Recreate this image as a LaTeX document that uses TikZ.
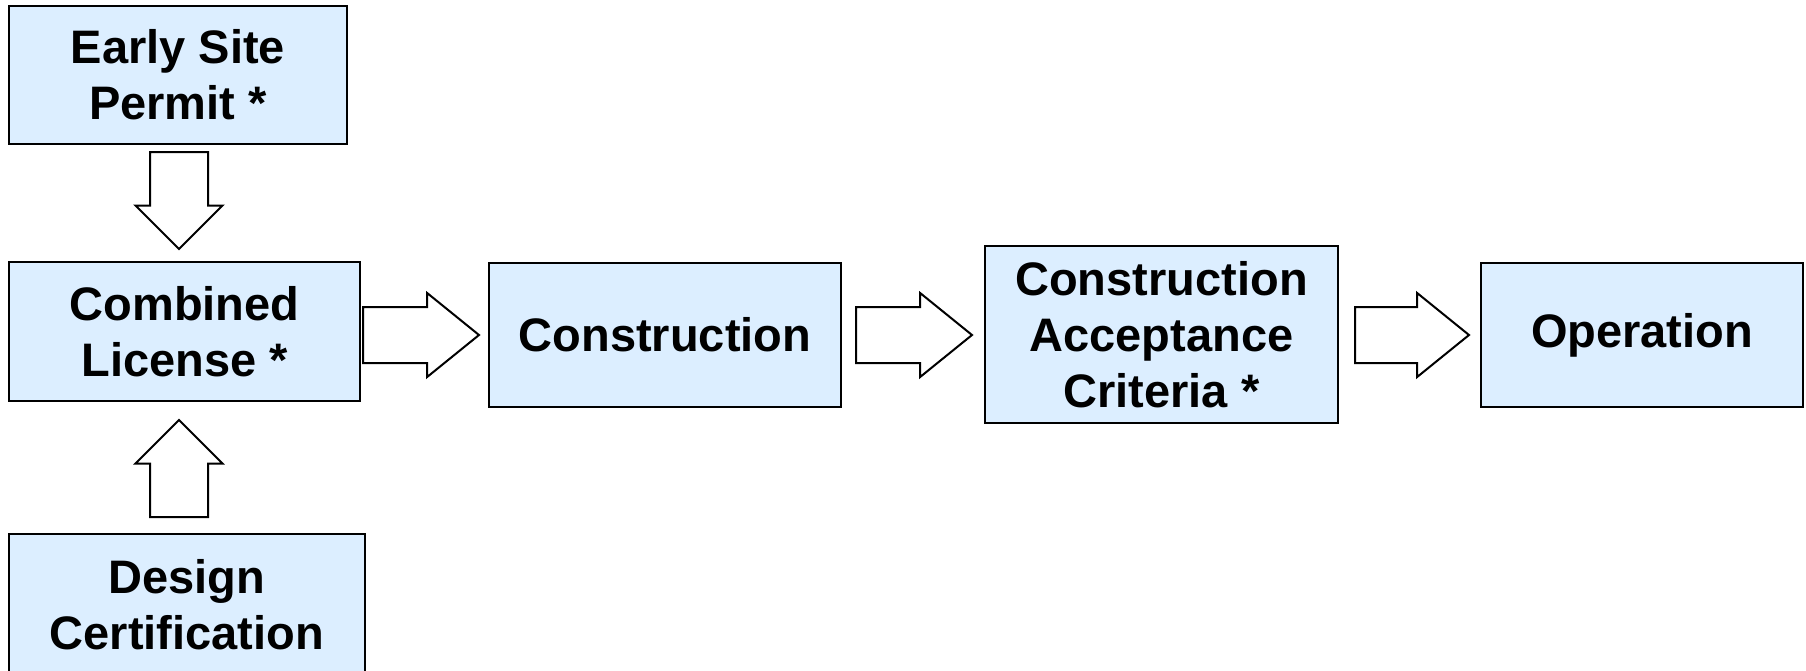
\documentclass[tikz,border=0pt]{standalone}
\usepackage{fontspec}
\setmainfont{Liberation Sans}
\definecolor{boxblue}{RGB}{220, 238, 255}
\usetikzlibrary{positioning,shapes,arrows,calc}

\begin{document}
\begin{tikzpicture}[
    x=0.5pt,y=-0.5pt,
    stagebox/.style={rectangle,draw,line width=1pt,fill=boxblue,align=center,inner sep=2pt,font=\bfseries\fontsize{23.5}{28}\selectfont},
    blockarrow/.style={single arrow,draw,line width=1pt,fill=white,inner xsep=0pt,single arrow head indent=0pt},
    harrow/.style={blockarrow,inner ysep=13.5pt,single arrow head extend=7pt,single arrow tip angle=78,minimum height=58pt},
    varrow/.style={blockarrow,inner ysep=14pt,single arrow head extend=7.25pt,single arrow tip angle=90,minimum height=48.5pt}
]
    \useasboundingbox (0,0) rectangle (1806,670);

    \node[stagebox,minimum width=169pt,minimum height=69pt] (esp) at (178,75) {Early Site\\Permit *};
    \node[stagebox,minimum width=175.5pt,minimum height=69.5pt] (cl) at (184.5,331.5) {Combined\\License *};
    \node[stagebox,minimum width=178pt,minimum height=71pt] (dc) at (187,605) {Design\\Certification};
    \node[stagebox,minimum width=176pt,minimum height=72pt] (con) at (665,335) {Construction};
    \node[stagebox,minimum width=176.5pt,minimum height=88.5pt] (cac) at (1161.5,334.5) {Construction\\Acceptance\\Criteria *};
    \node[stagebox,minimum width=161pt,minimum height=72pt] (op) at (1642,335) {Operation};

    % block arrows between the stages
    \node[varrow,rotate=-90,anchor=tail] (a1) at ([xshift=0.5pt,yshift=-3pt]esp.south) {};
    \node[varrow,rotate=90,anchor=tail] (a2) at ([xshift=-4pt,yshift=7.5pt]dc.north) {};
    \node[harrow,anchor=tail] (a3) at ([xshift=0.5pt]cl.east |- con.center) {};
    \node[harrow,anchor=tail] (a4) at ([xshift=6.5pt]con.east) {};
    \node[harrow,minimum height=57pt,anchor=tail] (a5) at ([xshift=7.5pt]cac.east |- op.center) {};
\end{tikzpicture}
\end{document}
